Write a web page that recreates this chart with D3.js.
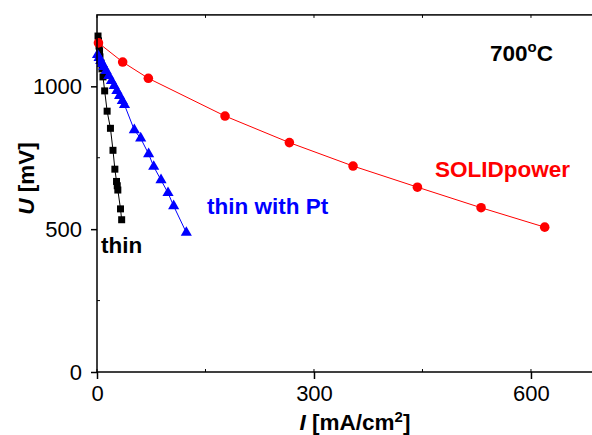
<!DOCTYPE html>
<html><head><meta charset="utf-8">
<script src="https://cdn.jsdelivr.net/npm/d3@7"></script>
<style>
html,body{margin:0;padding:0;background:#fff;}
svg{display:block;}
text{font-family:"Liberation Sans",Arial,Helvetica,sans-serif;}
</style></head>
<body>
<svg id="chart" width="592" height="435"></svg>
<script>
// Data (I in mA/cm^2, U in mV)
const thinI = [1.4, 2.1, 2.8, 3.5, 4.1, 5.5, 6.9, 8.3, 10.6, 14, 18.6, 22.1, 24.7, 27, 28, 28.8, 32.5, 34.1];
const thinU = [1176, 1159, 1141, 1124, 1103, 1082, 1061, 1033, 984, 913, 853, 776, 710, 667, 652, 637, 571, 533];
const ptI = [0.7, 2.9, 5.1, 7.3, 9.5, 12.6, 16.3, 20, 23.8, 27.5, 31.2, 35, 38, 51.6, 60.4, 71.4, 78.4, 88.5, 98.2, 106, 123.5];
const ptU = [1110, 1100, 1089, 1079, 1068, 1054, 1037, 1019, 1002, 984, 967, 949, 935, 847, 818, 763, 719, 672, 627, 581, 488];
const solidI = [2, 35.5, 71, 177, 266, 354, 443, 531, 619];
const solidU = [1152, 1085, 1028, 896, 803, 721, 647, 575, 507];
const xTicks = [0, 300, 600];
const xMinor = [150, 450];
const yTicks = [0, 500, 1000];
const yMinor = [250, 750];

const svg = d3.select("#chart");
const x = d3.scaleLinear().domain([0, 700]).range([97, 603.3]);
const y = d3.scaleLinear().domain([0, 1250]).range([372, 14.9]);

const series = [
  {I: thinI, U: thinU, color: "#000000", sym: d3.symbolSquare, size: 49},
  {I: ptI, U: ptU, color: "#0000ff", sym: d3.symbolTriangle, size: 54},
  {I: solidI, U: solidU, color: "#ff0000", sym: d3.symbolCircle, size: 72}
];

const line = d3.line().x(d => x(d[0])).y(d => y(d[1]));
series.forEach(s => {
  const pts = s.I.map((v, i) => [v, s.U[i]]);
  svg.append("path").attr("d", line(pts)).attr("fill", "none")
    .attr("stroke", s.color).attr("stroke-width", 1);
  svg.append("g").selectAll("path").data(pts).join("path")
    .attr("transform", d => `translate(${x(d[0])},${y(d[1])})`)
    .attr("d", d3.symbol().type(s.sym).size(s.size))
    .attr("fill", s.color);
});

// frame
const axisColor = "#000";
svg.append("rect").attr("x", x(0)).attr("y", y(1250)).attr("width", x(700) - x(0)).attr("height", y(0) - y(1250))
  .attr("fill", "none").attr("stroke", axisColor).attr("stroke-width", 1.5);

const tickFont = 22;
// bottom axis
const xAxis = d3.axisBottom(x).tickValues(xTicks).tickFormat(d3.format("d")).tickSize(7).tickPadding(6).tickSizeOuter(0);
const gx = svg.append("g").attr("transform", `translate(0,${y(0)})`).call(xAxis);
gx.select(".domain").remove();
gx.selectAll("line").attr("stroke-width", 1.5);
gx.selectAll("text").attr("font-size", tickFont).attr("font-family", "Liberation Sans, Arial, sans-serif").attr("fill", "#000");
// minor bottom (inward)
svg.append("g").selectAll("line").data(xMinor.concat(xTicks)).join("line")
  .attr("x1", d => x(d)).attr("x2", d => x(d)).attr("y1", y(0)).attr("y2", y(0) - 3)
  .attr("stroke", axisColor).attr("stroke-width", 1);
// top ticks inward
svg.append("g").selectAll("line").data(xMinor.concat(xTicks)).join("line")
  .attr("x1", d => x(d)).attr("x2", d => x(d)).attr("y1", y(1250)).attr("y2", y(1250) + 3)
  .attr("stroke", axisColor).attr("stroke-width", 1);

// left axis
const yAxis = d3.axisLeft(y).tickValues(yTicks).tickFormat(d3.format("d")).tickSize(6).tickPadding(9).tickSizeOuter(0);
const gy = svg.append("g").attr("transform", `translate(${x(0)},0)`).call(yAxis);
gy.select(".domain").remove();
gy.selectAll("line").attr("stroke-width", 1.5);
gy.selectAll("text").attr("font-size", tickFont).attr("font-family", "Liberation Sans, Arial, sans-serif").attr("fill", "#000");
svg.append("g").selectAll("line").data(yMinor).join("line")
  .attr("x1", x(0)).attr("x2", x(0) + 3).attr("y1", d => y(d)).attr("y2", d => y(d))
  .attr("stroke", axisColor).attr("stroke-width", 1);

// axis titles
const labFont = 22.5;
const yl = svg.append("text").attr("transform", "translate(34,178.5) rotate(-90)")
  .attr("text-anchor", "middle").attr("font-size", labFont).attr("font-weight", "bold");
yl.append("tspan").attr("font-style", "italic").text("U");
yl.append("tspan").text(" [mV]");

const xl = svg.append("text").attr("x", 355).attr("y", 430)
  .attr("text-anchor", "middle").attr("font-size", labFont).attr("font-weight", "bold");
xl.append("tspan").attr("font-style", "italic").text("I");
xl.append("tspan").text(" [mA/cm");
xl.append("tspan").attr("font-size", 15).attr("dy", -8).text("2");
xl.append("tspan").attr("dy", 8).text("]");

// annotations
const t = svg.append("text").attr("x", 490).attr("y", 61).attr("font-size", labFont).attr("font-weight", "bold");
t.append("tspan").text("700");
t.append("tspan").attr("font-size", 15).attr("dy", -9).text("o");
t.append("tspan").attr("dy", 9).text("C");

svg.append("text").attr("x", 435).attr("y", 177).attr("font-size", labFont).attr("font-weight", "bold")
  .attr("fill", "#ff0000").text("SOLIDpower");
svg.append("text").attr("x", 207).attr("y", 214).attr("font-size", labFont).attr("font-weight", "bold")
  .attr("fill", "#0000ff").text("thin with Pt");
svg.append("text").attr("x", 101).attr("y", 253).attr("font-size", labFont).attr("font-weight", "bold")
  .attr("fill", "#000").text("thin");
</script>
</body></html>
